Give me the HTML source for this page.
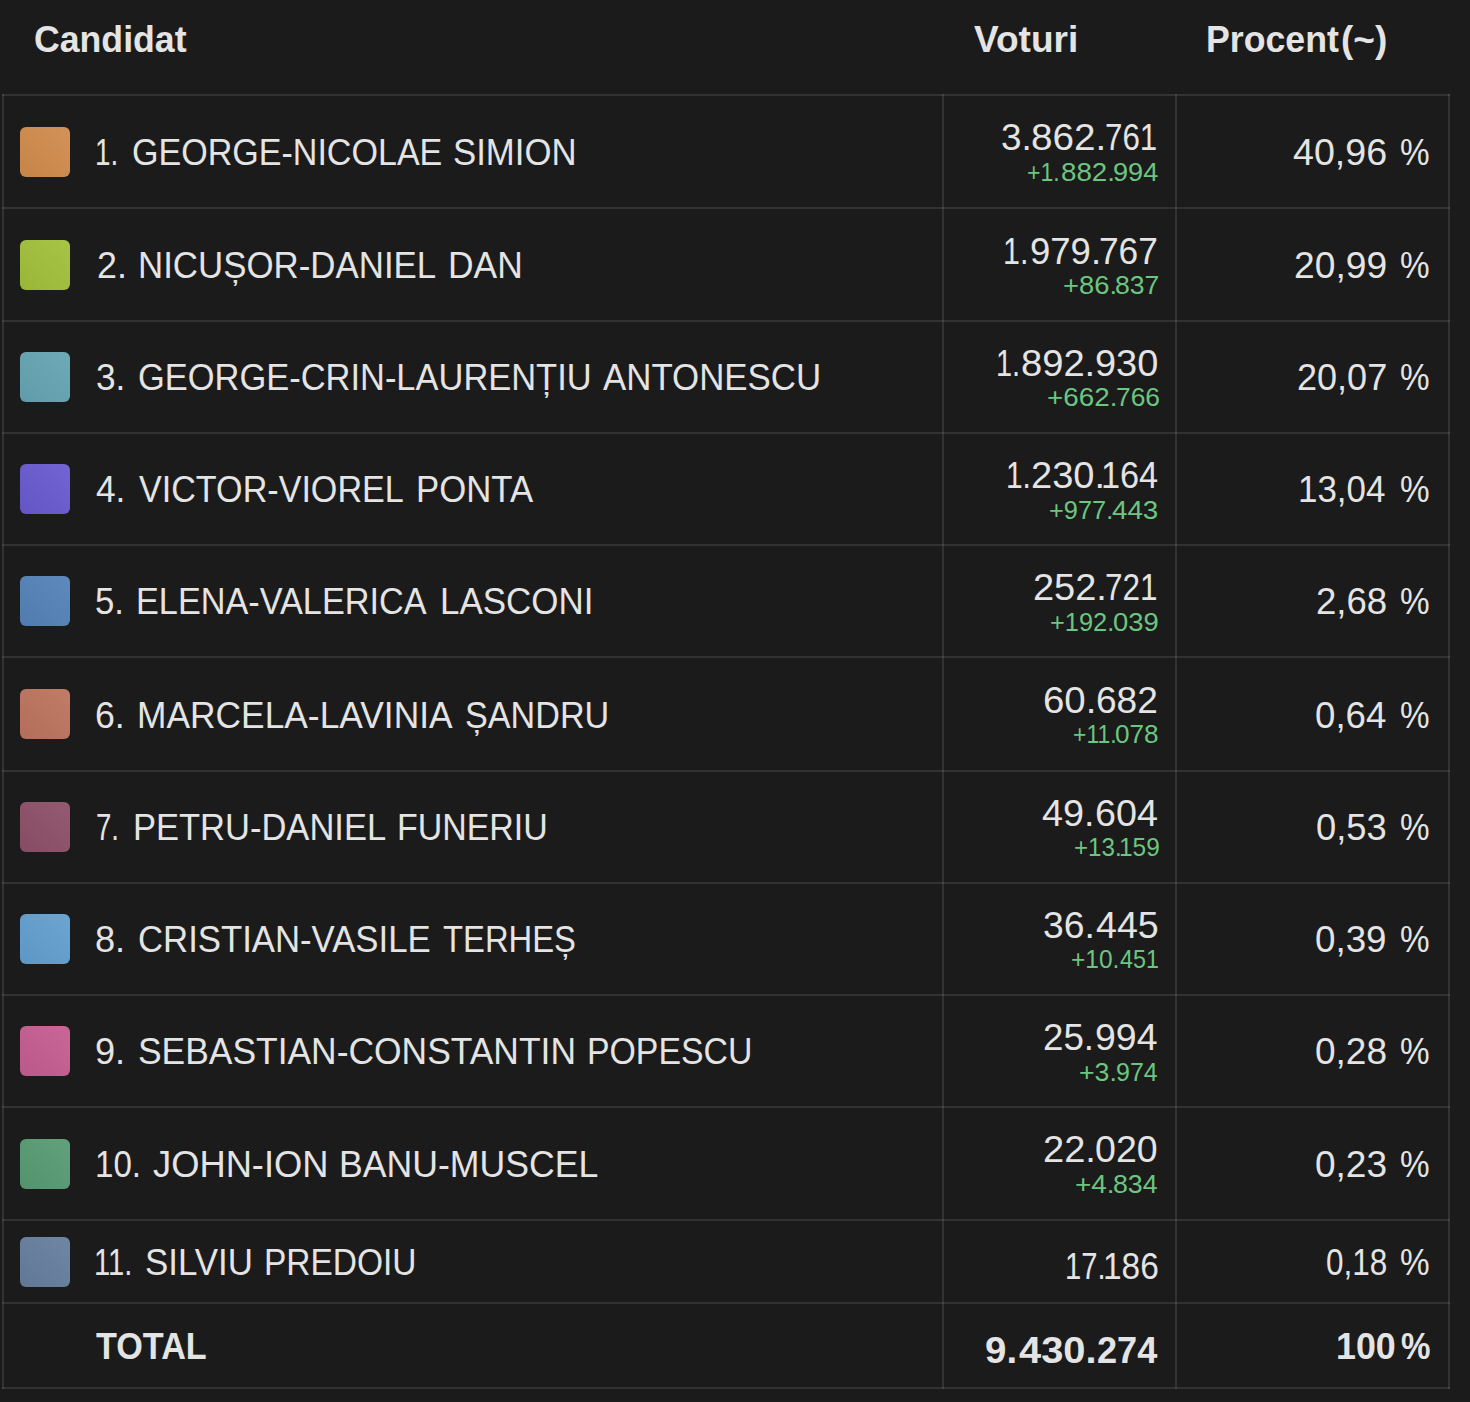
<!DOCTYPE html>
<html lang="ro">
<head>
<meta charset="utf-8">
<title>Rezultate: Candidat, Voturi, Procent</title>
<style>
html,body{margin:0;padding:0;background:#1b1b1b}
body{width:1470px;height:1402px;overflow:hidden;position:relative;font-family:"Liberation Sans",Arial,sans-serif;color:#e4e4e4}
.t{position:absolute;white-space:nowrap;transform-origin:0 0;line-height:40px;font-size:36px}
.b{font-weight:bold}
.g{font-size:25.5px;color:#6cc680}
.hl{position:absolute;left:2px;width:1448px;height:2px;background:rgba(255,255,255,.1)}
.vl{position:absolute;top:94px;height:1295px;width:2px;background:rgba(255,255,255,.1)}
.sw{position:absolute;left:20px;width:50px;height:50px;border-radius:6px;background-image:linear-gradient(45deg,rgba(0,0,0,.05),rgba(255,255,255,.06))}
</style>
</head>
<body>
<div class="thead">
<div class="th"><span class="t b" style="left:33.61px;top:20.20px;transform:scaleX(0.9903)">Candidat</span></div>
<div class="th"><span class="t b" style="left:973.61px;top:20.00px;transform:scaleX(1.0293)">Voturi</span></div>
<div class="th"><span class="t b" style="left:1205.62px;top:20.00px;transform:scaleX(0.9917)">Procent</span><span class="t b" style="left:1341.35px;top:20.00px;transform:scaleX(1.0263)">(~)</span></div>
</div>
<div class="grid">
<div class="hl" style="top:94px"></div>
<div class="hl" style="top:207px"></div>
<div class="hl" style="top:320px"></div>
<div class="hl" style="top:432px"></div>
<div class="hl" style="top:544px"></div>
<div class="hl" style="top:656px"></div>
<div class="hl" style="top:770px"></div>
<div class="hl" style="top:882px"></div>
<div class="hl" style="top:994px"></div>
<div class="hl" style="top:1106px"></div>
<div class="hl" style="top:1219px"></div>
<div class="hl" style="top:1302px"></div>
<div class="hl" style="top:1387px"></div>
<div class="vl" style="left:2px"></div>
<div class="vl" style="left:942px"></div>
<div class="vl" style="left:1175px"></div>
<div class="vl" style="left:1448px"></div>
</div>
<div class="row">
<div class="sw" style="top:126.5px;background-color:#d08b4c"></div>
<div class="name"><span class="t" style="left:94.90px;top:133.00px;transform:scaleX(0.7742)">1.</span> <span class="t" style="left:131.88px;top:133.00px;transform:scaleX(0.9459)">GEORGE-NICOLAE</span> <span class="t" style="left:453.23px;top:133.00px;transform:scaleX(0.9649)">SIMION</span></div>
<div class="vote"><span class="t" style="left:1001.38px;top:117.91px;transform:scaleX(1.0248)">3.</span><span class="t" style="left:1031.13px;top:117.91px;transform:scaleX(1.0729)">862.</span><span class="t" style="left:1105.33px;top:117.91px;transform:scaleX(0.8694)">761</span></div>
<div class="green"><span class="t g" style="left:1027.47px;top:152.11px;transform:scaleX(0.9065)">+1.</span><span class="t g" style="left:1060.53px;top:152.11px;transform:scaleX(1.0855)">882.</span><span class="t g" style="left:1113.15px;top:152.11px;transform:scaleX(1.0641)">994</span></div>
<div class="pct"><span class="t" style="left:1293.20px;top:133.30px;transform:scaleX(1.0449)">40,96</span> <span class="t" style="left:1400.28px;top:133.30px;transform:scaleX(0.9246)">%</span></div>
</div>
<div class="row">
<div class="sw" style="top:239.5px;background-color:#a2c03c"></div>
<div class="name"><span class="t" style="left:96.61px;top:246.00px;transform:scaleX(0.9950)">2.</span> <span class="t" style="left:138.08px;top:246.00px;transform:scaleX(0.9682)">NICUȘOR-DANIEL</span> <span class="t" style="left:447.63px;top:246.00px;transform:scaleX(0.9833)">DAN</span></div>
<div class="vote"><span class="t" style="left:1003.31px;top:232.11px;transform:scaleX(0.8448)">1.</span><span class="t" style="left:1029.97px;top:232.11px;transform:scaleX(1.0140)">979.</span><span class="t" style="left:1099.41px;top:232.11px;transform:scaleX(0.9796)">767</span></div>
<div class="green"><span class="t g" style="left:1062.89px;top:265.11px;transform:scaleX(1.0728)">+86.</span><span class="t g" style="left:1115.16px;top:265.11px;transform:scaleX(1.0407)">837</span></div>
<div class="pct"><span class="t" style="left:1294.33px;top:246.11px;transform:scaleX(1.0335)">20,99</span> <span class="t" style="left:1400.28px;top:246.11px;transform:scaleX(0.9246)">%</span></div>
</div>
<div class="row">
<div class="sw" style="top:352.0px;background-color:#65a4b2"></div>
<div class="name"><span class="t" style="left:96.02px;top:358.30px;transform:scaleX(0.9787)">3.</span> <span class="t" style="left:138.24px;top:358.30px;transform:scaleX(0.9569)">GEORGE-CRIN-LAURENȚIU</span> <span class="t" style="left:603.20px;top:358.30px;transform:scaleX(0.9682)">ANTONESCU</span></div>
<div class="vote"><span class="t" style="left:996.22px;top:344.11px;transform:scaleX(0.8049)">1.</span><span class="t" style="left:1020.73px;top:344.11px;transform:scaleX(1.0592)">892.</span><span class="t" style="left:1094.95px;top:344.11px;transform:scaleX(1.0536)">930</span></div>
<div class="green"><span class="t g" style="left:1046.66px;top:377.11px;transform:scaleX(1.0905)">+662.</span><span class="t g" style="left:1115.57px;top:377.11px;transform:scaleX(1.0351)">766</span></div>
<div class="pct"><span class="t" style="left:1297.00px;top:358.00px;transform:scaleX(1.0012)">20,07</span> <span class="t" style="left:1400.28px;top:358.00px;transform:scaleX(0.9246)">%</span></div>
</div>
<div class="row">
<div class="sw" style="top:464.0px;background-color:#6a5ad0"></div>
<div class="name"><span class="t" style="left:96.38px;top:470.00px;transform:scaleX(0.9795)">4.</span> <span class="t" style="left:139.20px;top:470.00px;transform:scaleX(0.9477)">VICTOR-VIOREL</span> <span class="t" style="left:415.67px;top:470.00px;transform:scaleX(0.9648)">PONTA</span></div>
<div class="vote"><span class="t" style="left:1005.52px;top:456.11px;transform:scaleX(0.8301)">1.</span><span class="t" style="left:1031.15px;top:456.11px;transform:scaleX(1.0563)">230.</span><span class="t" style="left:1100.90px;top:456.11px;transform:scaleX(0.9511)">164</span></div>
<div class="green"><span class="t g" style="left:1048.80px;top:489.70px;transform:scaleX(0.9954)">+977.</span><span class="t g" style="left:1112.12px;top:489.70px;transform:scaleX(1.0885)">443</span></div>
<div class="pct"><span class="t" style="left:1298.46px;top:470.00px;transform:scaleX(0.9704)">13,04</span> <span class="t" style="left:1400.28px;top:470.00px;transform:scaleX(0.9246)">%</span></div>
</div>
<div class="row">
<div class="sw" style="top:576.0px;background-color:#5482b9"></div>
<div class="name"><span class="t" style="left:95.45px;top:582.00px;transform:scaleX(0.9661)">5.</span> <span class="t" style="left:136.32px;top:582.00px;transform:scaleX(0.9512)">ELENA-VALERICA</span> <span class="t" style="left:439.88px;top:582.00px;transform:scaleX(0.9706)">LASCONI</span></div>
<div class="vote"><span class="t" style="left:1032.92px;top:568.11px;transform:scaleX(1.0548)">252.</span><span class="t" style="left:1104.76px;top:568.11px;transform:scaleX(0.8745)">721</span></div>
<div class="green"><span class="t g" style="left:1050.21px;top:601.70px;transform:scaleX(0.9954)">+192.</span><span class="t g" style="left:1113.30px;top:601.70px;transform:scaleX(1.0750)">039</span></div>
<div class="pct"><span class="t" style="left:1315.98px;top:582.00px;transform:scaleX(1.0163)">2,68</span> <span class="t" style="left:1400.28px;top:582.00px;transform:scaleX(0.9246)">%</span></div>
</div>
<div class="row">
<div class="sw" style="top:689.0px;background-color:#bc745d"></div>
<div class="name"><span class="t" style="left:95.38px;top:696.11px;transform:scaleX(0.9901)">6.</span> <span class="t" style="left:137.44px;top:696.11px;transform:scaleX(0.9818)">MARCELA-LAVINIA</span> <span class="t" style="left:465.07px;top:696.11px;transform:scaleX(0.9487)">ȘANDRU</span></div>
<div class="vote"><span class="t" style="left:1043.10px;top:680.70px;transform:scaleX(1.0676)">60.</span><span class="t" style="left:1096.17px;top:680.70px;transform:scaleX(1.0296)">682</span></div>
<div class="green"><span class="t g" style="left:1073.29px;top:714.30px;transform:scaleX(0.8984)">+11.</span><span class="t g" style="left:1115.37px;top:714.30px;transform:scaleX(1.0250)">078</span></div>
<div class="pct"><span class="t" style="left:1314.78px;top:696.11px;transform:scaleX(1.0180)">0,64</span> <span class="t" style="left:1400.28px;top:696.11px;transform:scaleX(0.9246)">%</span></div>
</div>
<div class="row">
<div class="sw" style="top:802.0px;background-color:#8d5068"></div>
<div class="name"><span class="t" style="left:95.96px;top:808.11px;transform:scaleX(0.7665)">7.</span> <span class="t" style="left:132.50px;top:808.11px;transform:scaleX(0.9586)">PETRU-DANIEL</span> <span class="t" style="left:396.73px;top:808.11px;transform:scaleX(0.9420)">FUNERIU</span></div>
<div class="vote"><span class="t" style="left:1042.36px;top:793.70px;transform:scaleX(1.0494)">49.</span><span class="t" style="left:1094.72px;top:793.70px;transform:scaleX(1.0469)">604</span></div>
<div class="green"><span class="t g" style="left:1074.24px;top:826.70px;transform:scaleX(0.9474)">+13.</span><span class="t g" style="left:1118.86px;top:826.70px;transform:scaleX(0.9584)">159</span></div>
<div class="pct"><span class="t" style="left:1316.00px;top:808.11px;transform:scaleX(1.0091)">0,53</span> <span class="t" style="left:1400.28px;top:808.11px;transform:scaleX(0.9246)">%</span></div>
</div>
<div class="row">
<div class="sw" style="top:914.0px;background-color:#629fcf"></div>
<div class="name"><span class="t" style="left:95.39px;top:920.30px;transform:scaleX(1.0045)">8.</span> <span class="t" style="left:138.44px;top:920.30px;transform:scaleX(0.9645)">CRISTIAN-VASILE</span> <span class="t" style="left:442.81px;top:920.30px;transform:scaleX(0.9103)">TERHEȘ</span></div>
<div class="vote"><span class="t" style="left:1042.76px;top:905.70px;transform:scaleX(1.0353)">36.</span><span class="t" style="left:1095.79px;top:905.70px;transform:scaleX(1.0455)">445</span></div>
<div class="green"><span class="t g" style="left:1070.83px;top:938.70px;transform:scaleX(0.9598)">+10.</span><span class="t g" style="left:1119.87px;top:938.70px;transform:scaleX(0.9143)">451</span></div>
<div class="pct"><span class="t" style="left:1315.38px;top:920.41px;transform:scaleX(1.0208)">0,39</span> <span class="t" style="left:1400.28px;top:920.41px;transform:scaleX(0.9246)">%</span></div>
</div>
<div class="row">
<div class="sw" style="top:1026.0px;background-color:#c55d92"></div>
<div class="name"><span class="t" style="left:95.39px;top:1032.41px;transform:scaleX(1.0045)">9.</span> <span class="t" style="left:138.21px;top:1032.41px;transform:scaleX(0.9833)">SEBASTIAN-CONSTANTIN</span> <span class="t" style="left:587.12px;top:1032.41px;transform:scaleX(0.9390)">POPESCU</span></div>
<div class="vote"><span class="t" style="left:1043.18px;top:1018.00px;transform:scaleX(1.0198)">25.</span><span class="t" style="left:1094.55px;top:1018.00px;transform:scaleX(1.0401)">994</span></div>
<div class="green"><span class="t g" style="left:1078.76px;top:1051.61px;transform:scaleX(1.0466)">+3.</span><span class="t g" style="left:1116.02px;top:1051.61px;transform:scaleX(0.9810)">974</span></div>
<div class="pct"><span class="t" style="left:1315.38px;top:1032.41px;transform:scaleX(1.0280)">0,28</span> <span class="t" style="left:1400.28px;top:1032.41px;transform:scaleX(0.9246)">%</span></div>
</div>
<div class="row">
<div class="sw" style="top:1138.5px;background-color:#579b73"></div>
<div class="name"><span class="t" style="left:94.63px;top:1145.00px;transform:scaleX(0.9197)">10.</span> <span class="t" style="left:153.39px;top:1145.00px;transform:scaleX(1.0088)">JOHN-ION</span> <span class="t" style="left:339.42px;top:1145.00px;transform:scaleX(0.9896)">BANU-MUSCEL</span></div>
<div class="vote"><span class="t" style="left:1043.12px;top:1130.00px;transform:scaleX(1.0571)">22.</span><span class="t" style="left:1095.18px;top:1130.00px;transform:scaleX(1.0429)">020</span></div>
<div class="green"><span class="t g" style="left:1075.32px;top:1164.00px;transform:scaleX(1.0943)">+4.</span><span class="t g" style="left:1113.34px;top:1164.00px;transform:scaleX(1.0488)">834</span></div>
<div class="pct"><span class="t" style="left:1315.38px;top:1145.30px;transform:scaleX(1.0280)">0,23</span> <span class="t" style="left:1400.28px;top:1145.30px;transform:scaleX(0.9246)">%</span></div>
</div>
<div class="row">
<div class="sw" style="top:1236.5px;background-color:#667e9e"></div>
<div class="name"><span class="t" style="left:93.93px;top:1243.00px;transform:scaleX(0.8095)">11.</span> <span class="t" style="left:145.24px;top:1243.00px;transform:scaleX(0.9686)">SILVIU</span> <span class="t" style="left:264.18px;top:1243.00px;transform:scaleX(0.9296)">PREDOIU</span></div>
<div class="vote"><span class="t" style="left:1064.85px;top:1247.11px;transform:scaleX(0.8096)">17.</span><span class="t" style="left:1102.79px;top:1247.11px;transform:scaleX(0.9289)">186</span></div>
<div class="pct"><span class="t" style="left:1325.56px;top:1243.00px;transform:scaleX(0.8738)">0,18</span> <span class="t" style="left:1400.28px;top:1243.00px;transform:scaleX(0.9246)">%</span></div>
</div>
<div class="row total">
<div class="name"><span class="t b" style="left:96.00px;top:1327.00px;transform:scaleX(0.9492)">TOTAL</span></div>
<div class="vote"><span class="t b" style="left:985.31px;top:1331.11px;transform:scaleX(1.0677)">9.</span><span class="t b" style="left:1019.42px;top:1331.11px;transform:scaleX(1.1076)">430.</span><span class="t b" style="left:1097.39px;top:1331.11px;transform:scaleX(1.0036)">274</span></div>
<div class="pct"><span class="t b" style="left:1335.81px;top:1327.20px;transform:scaleX(0.9950)">100</span><span class="t b" style="left:1400.63px;top:1327.20px;transform:scaleX(0.9195)">%</span></div>
</div>
</body>
</html>
